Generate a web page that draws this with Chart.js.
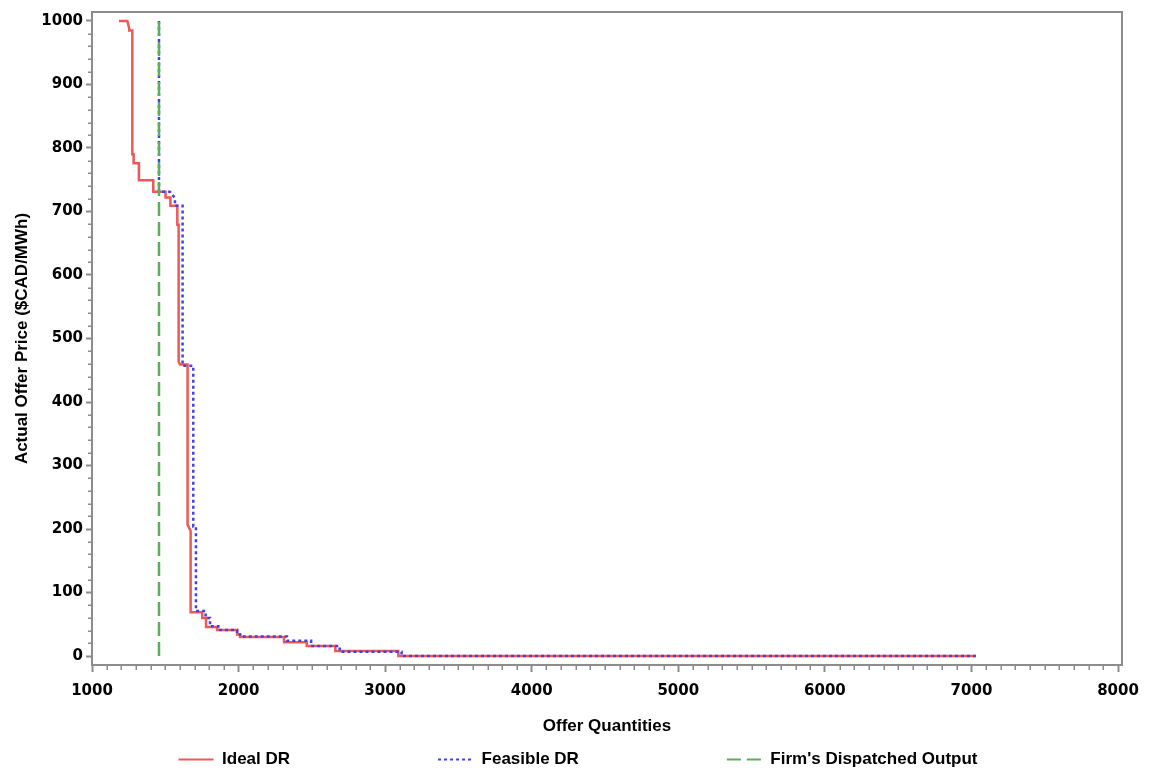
<!DOCTYPE html>
<html><head><meta charset="utf-8">
<script src="https://cdn.jsdelivr.net/npm/chart.js@4.4.1/dist/chart.umd.min.js"></script>
<style>html,body{margin:0;padding:0;background:#fff;}#wrap{width:1156px;height:772px;}</style>
</head><body><div id="wrap"><canvas id="c" width="1156" height="772"></canvas></div>
<script>
// ---- data ----
const seriesNames = ['Ideal DR', 'Feasible DR', "Firm's Dispatched Output"];
const idealX = [1184,1241,1254,1254,1275,1275,1284,1284,1320,1320,1418,1418,1502,1502,1535,1535,1582,1582,1591,1591,1600,1652,1652,1673,1673,1752,1752,1778,1778,1854,1854,1990,1990,2010,2010,2310,2310,2465,2465,2660,2660,3090,3090,7030];
const idealY = [1000,1000,988,985,985,790,790,776,776,749,749,731,731,722,722,709,709,679,679,464,459,459,207,197,69,69,60,60,46,46,41,41,34,34,30,30,22,22,16,16,8,8,0,0];
const feasibleX = [1457,1457,1532,1566,1566,1618,1618,1679,1691,1691,1709,1709,1775,1775,1805,1805,1862,1862,1990,1990,2010,2010,2330,2330,2495,2495,2690,2690,3112,3112,7030];
const feasibleY = [1000,731,731,721,709,709,457,457,457,204,204,71,71,60,60,47,47,41,41,34,34,31,31,24,24,16,16,7,7,0,0];
const dispatchX = [1457,1457];
const dispatchY = [0,1000];
const xTickValues = [1000,2000,3000,4000,5000,6000,7000,8000];
const yTickValues = [0,100,200,300,400,500,600,700,800,900,1000];

// ---- styling / layout ----
const AXIS_GRAY = '#8c8c8c';
const X_MINOR_STEP = 100;
const Y_MINOR_STEP = 20;
const LEGEND_PAD = 148;
const LEGEND_ROW_TOP = 751;
const CANVAS_W = 1156;
const tickFont = {family: 'DejaVu Sans', weight: 'bold', size: 15};
const titleFont = {family: 'Liberation Sans', weight: 'bold', size: 17};

const toPts = (xs, ys) => xs.map((x, i) => ({x: x, y: ys[i]}));

const framePlugin = {
  id: 'frameMinor',
  afterDraw(chart) {
    const {ctx, chartArea: a, scales: {x, y}} = chart;
    ctx.save();
    ctx.strokeStyle = AXIS_GRAY;
    ctx.lineWidth = 2;
    ctx.beginPath();
    ctx.moveTo(a.left, a.top);
    ctx.lineTo(a.right, a.top);
    ctx.lineTo(a.right, a.bottom);
    ctx.stroke();
    ctx.lineWidth = 1.5;
    ctx.beginPath();
    for (let v = xTickValues[0]; v <= xTickValues[xTickValues.length - 1]; v += X_MINOR_STEP) {
      if (xTickValues.includes(v)) continue;
      const px = Math.round(x.getPixelForValue(v)) + 0.25;
      ctx.moveTo(px, a.bottom);
      ctx.lineTo(px, a.bottom + 5);
    }
    for (let v = yTickValues[0]; v <= yTickValues[yTickValues.length - 1]; v += Y_MINOR_STEP) {
      if (yTickValues.includes(v)) continue;
      const py = Math.round(y.getPixelForValue(v)) + 0.25;
      ctx.moveTo(a.left, py);
      ctx.lineTo(a.left - 4, py);
    }
    ctx.stroke();
    ctx.restore();
  }
};

const legendPlacePlugin = {
  id: 'legendPlace',
  afterLayout(chart) {
    const lg = chart.legend;
    if (!lg) return;
    lg.top = LEGEND_ROW_TOP - LEGEND_PAD;
    lg.left = 0;
    lg.right = CANVAS_W;
  }
};

new Chart(document.getElementById('c'), {
  type: 'line',
  data: {
    datasets: [
      {label: seriesNames[0], data: toPts(idealX, idealY), borderColor: '#f05858', backgroundColor: '#f05858', borderWidth: 2.5, pointRadius: 0, tension: 0, order: 2},
      {label: seriesNames[1], data: toPts(feasibleX, feasibleY), borderColor: '#4040ee', backgroundColor: '#4040ee', borderWidth: 2.5, borderDash: [3, 3], pointRadius: 0, tension: 0, order: 1},
      {label: seriesNames[2], data: toPts(dispatchX, dispatchY), borderColor: '#5cad5c', backgroundColor: '#5cad5c', borderWidth: 2.5, borderDash: [14, 6], pointRadius: 0, tension: 0, order: 0}
    ]
  },
  options: {
    responsive: false,
    animation: false,
    devicePixelRatio: 1,
    layout: {padding: {top: 10, right: 34, left: 0, bottom: 0}},
    plugins: {
      tooltip: {enabled: false},
      legend: {
        position: 'bottom',
        maxHeight: 30,
        labels: {
          usePointStyle: true,
          pointStyle: 'line',
          pointStyleWidth: 35,
          padding: LEGEND_PAD,
          color: '#000',
          font: {family: 'Liberation Sans', weight: 'bold', size: 17},
          sort: (a, b) => a.datasetIndex - b.datasetIndex,
          generateLabels: chart => Chart.defaults.plugins.legend.labels.generateLabels(chart).map(it => {
            const ds = chart.data.datasets[it.datasetIndex];
            return Object.assign(it, {lineDash: ds.borderDash || [], strokeStyle: ds.borderColor, lineWidth: 2});
          })
        }
      }
    },
    scales: {
      x: {
        type: 'linear',
        min: 1000, max: 8027,
        afterBuildTicks: s => { s.ticks = xTickValues.map(v => ({value: v})); },
        afterFit: s => { s.height = 77; },
        ticks: {autoSkip: false, maxRotation: 0, color: '#000', font: tickFont, padding: 10, callback: v => String(v)},
        grid: {drawOnChartArea: false, tickLength: 7, tickWidth: 2, tickColor: AXIS_GRAY},
        border: {color: AXIS_GRAY, width: 2},
        title: {display: true, text: 'Offer Quantities', color: '#000', font: titleFont, padding: {top: 2, bottom: 5}}
      },
      y: {
        type: 'linear',
        min: -14, max: 1014,
        afterBuildTicks: s => { s.ticks = yTickValues.map(v => ({value: v})); },
        afterFit: s => { s.width = 92; },
        ticks: {autoSkip: false, color: '#000', font: tickFont, padding: 3, callback: v => String(v)},
        grid: {drawOnChartArea: false, tickLength: 6, tickWidth: 2, tickColor: AXIS_GRAY},
        border: {color: AXIS_GRAY, width: 2},
        title: {display: true, text: 'Actual Offer Price ($CAD/MWh)', color: '#000', font: titleFont, padding: {top: 12, bottom: 2}}
      }
    }
  },
  plugins: [framePlugin, legendPlacePlugin]
});
</script></body></html>
